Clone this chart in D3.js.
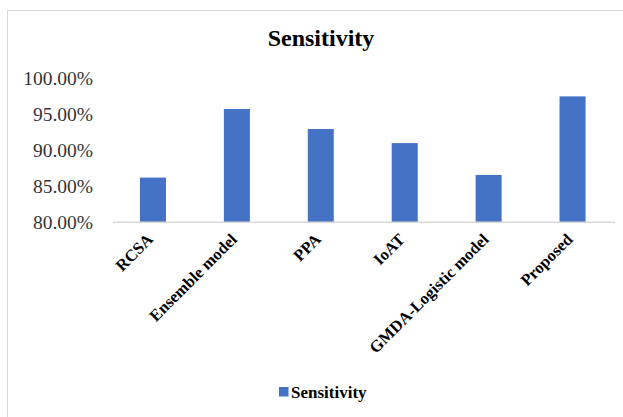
<!DOCTYPE html>
<html>
<head>
<meta charset="utf-8">
<script src="https://cdn.jsdelivr.net/npm/d3@7"></script>
<style>
  html, body { margin: 0; padding: 0; background: #fff; }
  svg { display: block; }
  text { font-family: "Times New Roman", "Liberation Serif", serif; }
</style>
</head>
<body>
<svg id="chart" width="623" height="417"></svg>
<script>
// Sensitivity of each method
const categories = ["RCSA", "Ensemble model", "PPA", "IoAT", "GMDA-Logistic model", "Proposed"];
const sensitivity = [0.8623, 0.9578, 0.9299, 0.9103, 0.8660, 0.9754];
const yTicks = [0.80, 0.85, 0.90, 0.95, 1.00];
const seriesName = "Sensitivity";
const chartTitle = "Sensitivity";

const svg = d3.select("#chart");
const W = 623, H = 417;

// chart frame (only the top and left edges fall inside the window)
svg.append("rect")
  .attr("x", 7.5).attr("y", 10.5)
  .attr("width", W + 20).attr("height", H + 20)
  .attr("fill", "#fff")
  .attr("stroke", "#d9d9d9").attr("stroke-width", 1);

const x = d3.scaleBand()
  .domain(categories)
  .range([111, 614.5])
  .paddingInner(0.69)
  .paddingOuter(0.345);

const y = d3.scaleLinear()
  .domain([0.80, 1.00])
  .range([222.3, 78.7]);

// title
svg.append("text")
  .attr("x", 321).attr("y", 46)
  .attr("text-anchor", "middle")
  .attr("font-size", 24)
  .attr("font-weight", "bold")
  .attr("fill", "#000")
  .text(chartTitle);

// y axis labels
const yAxis = d3.axisLeft(y)
  .tickValues(yTicks)
  .tickFormat(d3.format(".2%"))
  .tickSize(0)
  .tickPadding(0);
const gy = svg.append("g")
  .attr("transform", "translate(93,0)")
  .call(yAxis);
gy.select(".domain").remove();
gy.selectAll("text")
  .attr("font-family", "\"Times New Roman\", \"Liberation Serif\", serif")
  .attr("font-size", 19.5)
  .attr("fill", "#333");

// bars
svg.append("g")
  .selectAll("rect")
  .data(categories)
  .join("rect")
  .attr("x", d => x(d))
  .attr("width", x.bandwidth())
  .attr("y", (d, i) => y(sensitivity[i]))
  .attr("height", (d, i) => y(0.80) - y(sensitivity[i]))
  .attr("fill", "#4472C4");

// category axis
const xAxis = d3.axisBottom(x).tickSize(0).tickPadding(0);
const gx = svg.append("g")
  .attr("transform", `translate(0,${y(0.80)})`)
  .call(xAxis);
gx.select(".domain")
  .attr("stroke", "#d9d9d9")
  .attr("stroke-width", 1.5)
  .attr("d", `M113,0H615`);
gx.selectAll(".tick text")
  .attr("font-family", "\"Times New Roman\", \"Liberation Serif\", serif")
  .attr("font-size", 16.5)
  .attr("font-weight", "bold")
  .attr("fill", "#000")
  .attr("text-anchor", "end")
  .attr("dy", "0.35em")
  .attr("y", 0)
  .attr("transform", "translate(-3,14) rotate(-45)");

// legend
const lg = svg.append("g").attr("transform", "translate(279,387)");
lg.append("rect")
  .attr("width", 9.5).attr("height", 9.5)
  .attr("fill", "#4472C4");
lg.append("text")
  .attr("x", 12).attr("y", 11)
  .attr("font-size", 17)
  .attr("font-weight", "bold")
  .attr("fill", "#000")
  .text(seriesName);
</script>
</body>
</html>
